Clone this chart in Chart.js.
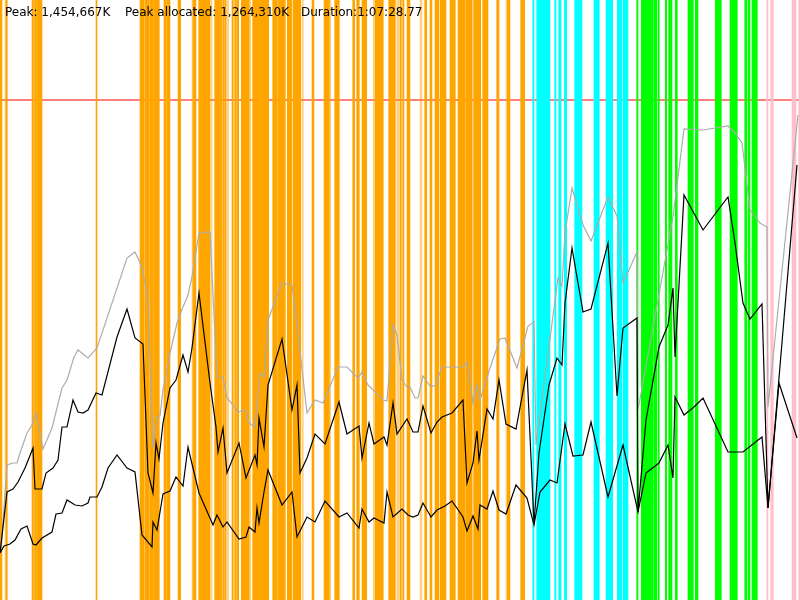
<!DOCTYPE html>
<html>
<head>
<meta charset="utf-8">
<script src="https://cdn.jsdelivr.net/npm/chart.js@4/dist/chart.umd.min.js"></script>
<style>
  html, body { margin: 0; padding: 0; background: #fff; }
  #wrap { position: relative; width: 800px; height: 600px; }
  #c { position: absolute; left: 0; top: 0; }
  .lbl { position: absolute; top: 5px; font-family: "DejaVu Sans", sans-serif; font-size: 12px; line-height: 14px; color: #000; white-space: pre; }
</style>
</head>
<body>
<div id="wrap">
  <canvas id="c" width="800" height="600"></canvas>
  <div class="lbl" id="t1" style="left:5px">Peak: 1,454,667K</div>
  <div class="lbl" id="t2" style="left:125px">Peak allocated: 1,264,310K</div>
  <div class="lbl" id="t3" style="left:301px">Duration:1:07:28.77</div>
</div>
<script>
// Timeline units: 0..800 spans the whole run (Duration 1:07:28.77). Memory in MB.
const timelineEnd = 800;
const memoryMaxMB = 1800;
const heapLimitMB = 1500;

// Committed heap (gray) [time, MB]
const committedMB = [
  [1,150],[7,405],[13,411],[17,411],[20,441],[27,501],[32,525],[36,561],[43,453],[52,516],
  [62,636],[67,660],[74,729],[78,750],[88,726],[97,756],[127,1026],[135,1044],[142,999],[148,900],
  [153,459],[157,549],[160,552],[163,630],[170,741],[177,831],[183,879],[188,915],[192,969],[199,1101],
  [210,1104],[217,669],[223,669],[227,606],[233,585],[238,564],[245,570],[249,531],[255,519],[260,681],
  [264,669],[268,840],[282,951],[292,945],[297,825],[307,561],[315,600],[323,591],[338,699],[347,699],
  [358,666],[362,684],[368,645],[383,600],[387,597],[393,825],[397,795],[402,660],[407,639],[410,639],
  [415,606],[418,606],[423,672],[430,642],[435,642],[442,699],[450,699],[463,699],[467,714],[473,591],
  [477,645],[480,600],[490,696],[500,783],[505,786],[517,696],[528,822],[534,834],[536,465],[558,966],
  [562,942],[565,1101],[572,1236],[583,1125],[591,1077],[608,1209],[617,1152],[623,951],[637,1044],[638,570],
  [673,1149],[684,1413],[703,1410],[728,1422],[735,1401],[742,1371],[750,1170],[760,1131],[767,1119],[768,579],
  [798,1455]
];

// Heap used before collection (black, upper) [time, MB]
const usedMB = [
  [0,141],[7,324],[13,333],[18,354],[25,396],[33,456],[35,333],[42,333],[46,381],[53,396],
  [58,420],[62,519],[67,519],[73,600],[78,564],[83,561],[88,570],[96,621],[102,615],[117,789],
  [127,873],[135,786],[143,768],[148,381],[153,321],[156,471],[159,423],[163,531],[170,636],[176,660],
  [183,735],[188,684],[192,756],[199,921],[210,651],[216,519],[218,444],[223,516],[227,381],[239,471],
  [246,366],[255,435],[257,405],[259,546],[264,459],[268,645],[282,783],[292,570],[297,645],[300,381],
  [307,426],[315,498],[325,468],[339,594],[347,498],[359,522],[362,426],[369,531],[374,468],[384,489],
  [387,465],[393,591],[397,498],[407,543],[413,504],[418,504],[423,582],[431,501],[437,534],[442,549],
  [452,561],[463,600],[467,351],[473,411],[477,507],[479,420],[487,573],[493,543],[499,660],[506,528],
  [516,513],[527,690],[534,228],[539,441],[549,645],[557,726],[562,705],[565,891],[572,1056],[583,864],
  [591,873],[608,1071],[617,612],[623,816],[637,846],[638,264],[646,540],[659,759],[668,825],[673,936],
  [675,729],[684,1215],[703,1110],[728,1209],[735,1071],[743,891],[750,843],[762,888],[768,276],[797,1305]
];

// Live heap after collection (black, lower) [time, MB]
const liveMB = [
  [0,141],[4,162],[10,168],[15,180],[21,213],[27,222],[33,168],[36,165],[42,186],[52,204],
  [56,258],[62,261],[67,300],[75,285],[82,282],[88,291],[90,309],[97,309],[102,339],[108,396],
  [117,435],[127,396],[135,384],[142,195],[152,159],[153,234],[157,210],[163,318],[170,327],[176,369],
  [183,342],[188,459],[199,321],[213,225],[217,255],[223,219],[227,234],[239,183],[246,189],[249,219],
  [255,204],[257,276],[259,231],[264,324],[268,390],[282,285],[292,324],[297,189],[307,249],[315,234],
  [325,297],[339,249],[347,261],[359,216],[362,273],[369,234],[374,246],[384,231],[387,324],[393,249],
  [402,273],[408,255],[413,249],[418,255],[423,291],[431,249],[437,270],[445,282],[452,297],[463,249],
  [467,207],[473,252],[478,213],[480,285],[487,273],[493,327],[499,270],[506,258],[516,345],[527,306],
  [534,225],[540,324],[550,360],[557,351],[565,528],[573,432],[583,435],[591,534],[608,309],[623,465],
  [638,264],[646,381],[659,411],[668,465],[673,366],[675,609],[684,555],[694,579],[703,606],[728,444],
  [743,444],[762,489],[768,276],[779,651],[797,486]
];

// GC event spans [start, end] on the timeline
const orangeSpans = [
  [0,2],[6,7.3],[32,33.5],[34.5,36],[36.5,42],[96,97],[140,144],[145.3,149],[150,153.3],[154,156.7],
  [157.3,159.3],[164,166],[166.7,170],[178,180.7],[193,196],[198.7,210],[214.7,221.7],[222.7,224],[224.7,226],
  [232,233.3],[234.7,236],[236.7,238.7],[241.3,249.3],[252.7,256.7],[257.3,268.7],[272.7,277.3],[278,285.3],
  [287.3,292],[293.3,300.7],[312,314],[324,326.7],[327.3,329.3],[334.7,336.7],[337.3,339.3],[352.7,354.7],
  [356.7,359.3],[362,366.7],[375.3,378.7],[379,383.3],[388.7,395.3],[400,401.3],[402.7,404],[407.3,410],
  [424.7,426.7],[430,432],[435.3,438.7],[440,446],[450,455.3],[458,465.3],[466,472],[474,476.7],
  [477.3,480.7],[482.7,488],[496.7,499],[507.3,510],[520.7,524.7]
];
const orangeLightSpans = [
  [5,6],[144,145.3],[149,150],[153.3,154],[156.7,157.3],[192,193],[211,212],[226.7,228.7],[250,250.7],
  [302,303.3],[329.3,330.7],[373.3,374.7],[378.7,379],[396.7,399],[406.7,407.3],[420,422],[434.7,435.3],
  [472.7,474],[506,507.3]
];
const cyanSpans = [
  [532.7,534],[536.7,546.7],[547.3,550],[554.7,556],[558.7,561],[564.3,566.7],[574.7,582],[594,599.3],
  [606,612.7],[617.3,622],[623.3,628]
];
const greenSpans = [
  [636.7,638],[641.3,648.7],[649.3,653.3],[654,656.7],[658,659.3],[665.3,666.7],[668.7,672],[675.3,677.3],
  [688,693.3],[695.3,698],[715.3,721.3],[730,732.7],[733.3,737.3],[744.7,746.7],[748,750],[752,757.3]
];
const pinkSpans = [[766.7,768],[770.7,773.3],[792,796],[798.7,800]];

const toPts = arr => arr.map(([x, y]) => ({x, y}));

function band(spans, color) {
  return {
    type: 'bar', indexAxis: 'y', xAxisID: 'x', yAxisID: 'yb',
    data: spans.map(([s, e]) => ({x: [s, e], y: 'gc'})),
    backgroundColor: color, borderWidth: 0, borderSkipped: false,
    barPercentage: 1, categoryPercentage: 1, grouped: false, order: 10
  };
}
function line(pts, color, w, ord) {
  return {
    type: 'line', xAxisID: 'x', yAxisID: 'y',
    data: toPts(pts), borderColor: color, borderWidth: w, fill: false, pointRadius: 0, tension: 0, order: ord
  };
}

new Chart(document.getElementById('c'), {
  type: 'line',
  data: {
    datasets: [
      band(orangeSpans, '#FFA500'),
      band(orangeLightSpans, 'rgba(255,165,0,0.5)'),
      band(cyanSpans, '#00FFFF'),
      band(greenSpans, '#00FF00'),
      band(pinkSpans, '#FFC0CB'),
      line([[0, heapLimitMB], [timelineEnd, heapLimitMB]], 'rgba(255,0,0,0.5)', 2, 20),
      line(committedMB, '#ACACAC', 1.2, 2),
      line(liveMB, '#000000', 1.2, 1),
      line(usedMB, '#000000', 1.2, 0)
    ]
  },
  options: {
    responsive: false,
    animation: false,
    devicePixelRatio: 1,
    layout: { padding: 0 },
    plugins: { legend: { display: false }, tooltip: { enabled: false }, title: { display: false } },
    scales: {
      x: { type: 'linear', min: 0, max: timelineEnd, display: false },
      y: { type: 'linear', min: 0, max: memoryMaxMB, display: false },
      yb: { type: 'category', labels: ['gc'], offset: true, display: false, grid: { offset: true } }
    }
  }
});
</script>
</body>
</html>
